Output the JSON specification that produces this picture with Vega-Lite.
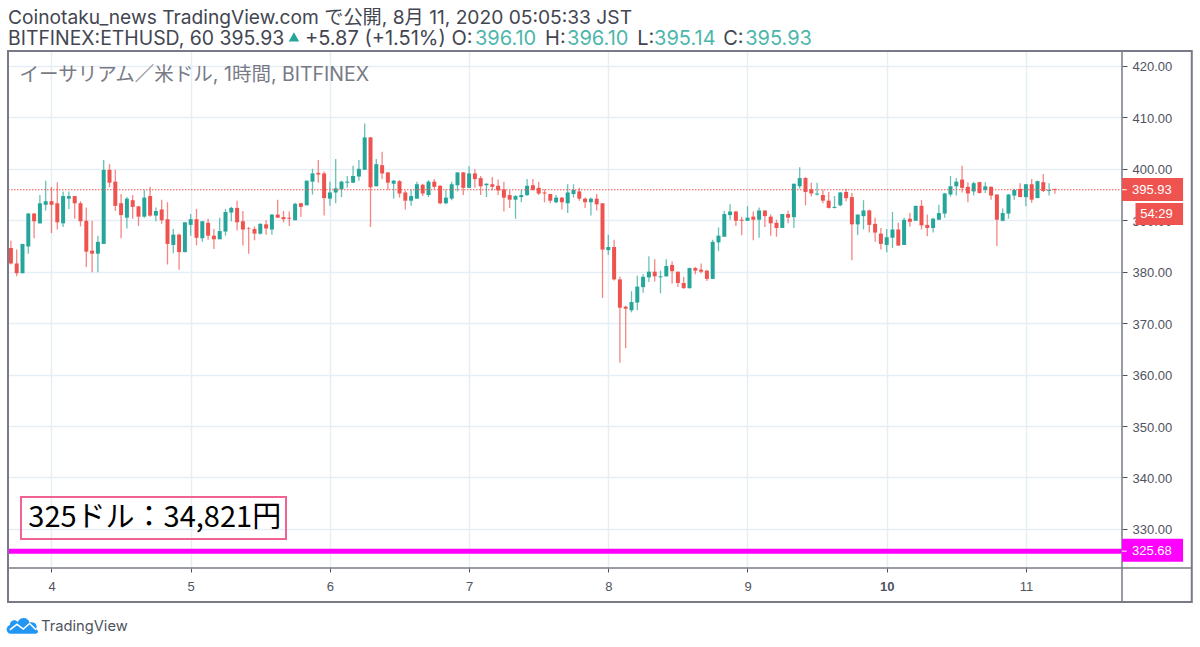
{
  "$schema": "https://vega.github.io/schema/vega-lite/v6.json",
  "width": 1114,
  "height": 517,
  "autosize": "none",
  "padding": {"left": 8, "top": 51, "right": 78, "bottom": 79},
  "background": "white",
  "view": {"stroke": null},
  "config": {"font": "Inter, Noto Sans CJK JP"},
  "datasets": {"note": [{"h": 0, "lo": 395.93, "note": "annotation"}]},
  "data": {"values": [
    {"h":-7,"o":384.6,"hi":386.0,"lo":381.4,"c":381.6},
    {"h":-6,"o":381.6,"hi":384.3,"lo":379.1,"c":379.7},
    {"h":-5,"o":379.7,"hi":385.4,"lo":379.7,"c":385.4},
    {"h":-4,"o":384.9,"hi":391.4,"lo":383.5,"c":391.3},
    {"h":-3,"o":391.3,"hi":391.4,"lo":386.5,"c":389.8},
    {"h":-2,"o":389.4,"hi":394.9,"lo":389.3,"c":393.3},
    {"h":-1,"o":393.0,"hi":397.7,"lo":391.9,"c":393.7},
    {"h":0,"o":393.7,"hi":396.5,"lo":387.5,"c":393.0},
    {"h":1,"o":393.3,"hi":397.4,"lo":388.2,"c":389.6},
    {"h":2,"o":389.4,"hi":395.6,"lo":388.7,"c":394.7},
    {"h":3,"o":394.2,"hi":395.6,"lo":392.2,"c":394.7},
    {"h":4,"o":394.7,"hi":394.7,"lo":390.3,"c":393.3},
    {"h":5,"o":393.3,"hi":393.7,"lo":388.8,"c":389.8},
    {"h":6,"o":389.9,"hi":392.5,"lo":380.9,"c":383.9},
    {"h":7,"o":384.1,"hi":389.9,"lo":379.9,"c":383.5},
    {"h":8,"o":383.5,"hi":387.0,"lo":379.9,"c":385.8},
    {"h":9,"o":385.4,"hi":401.7,"lo":385.4,"c":399.8},
    {"h":10,"o":399.8,"hi":400.9,"lo":396.4,"c":397.3},
    {"h":11,"o":397.5,"hi":399.8,"lo":391.8,"c":392.8},
    {"h":12,"o":393.3,"hi":395.1,"lo":386.5,"c":391.0},
    {"h":13,"o":390.5,"hi":394.5,"lo":388.4,"c":394.2},
    {"h":14,"o":393.9,"hi":394.9,"lo":390.3,"c":392.6},
    {"h":15,"o":392.7,"hi":392.8,"lo":388.9,"c":390.7},
    {"h":16,"o":390.7,"hi":395.9,"lo":390.5,"c":394.4},
    {"h":17,"o":394.7,"hi":396.5,"lo":390.7,"c":390.9},
    {"h":18,"o":390.9,"hi":392.5,"lo":389.8,"c":391.8},
    {"h":19,"o":392.1,"hi":394.0,"lo":389.3,"c":390.0},
    {"h":20,"o":390.2,"hi":393.5,"lo":381.4,"c":385.4},
    {"h":21,"o":385.2,"hi":388.3,"lo":383.6,"c":387.2},
    {"h":22,"o":387.2,"hi":387.4,"lo":380.4,"c":383.8},
    {"h":23,"o":383.8,"hi":389.6,"lo":383.8,"c":389.6},
    {"h":24,"o":389.1,"hi":391.2,"lo":387.0,"c":390.2},
    {"h":25,"o":390.2,"hi":392.2,"lo":385.1,"c":386.6},
    {"h":26,"o":386.5,"hi":389.8,"lo":385.8,"c":389.8},
    {"h":27,"o":389.5,"hi":390.3,"lo":386.2,"c":387.0},
    {"h":28,"o":387.0,"hi":388.3,"lo":384.4,"c":386.3},
    {"h":29,"o":386.3,"hi":390.5,"lo":386.3,"c":387.9},
    {"h":30,"o":387.8,"hi":392.2,"lo":387.0,"c":391.6},
    {"h":31,"o":391.5,"hi":392.6,"lo":389.8,"c":392.4},
    {"h":32,"o":392.4,"hi":393.8,"lo":388.0,"c":389.6},
    {"h":33,"o":389.8,"hi":391.8,"lo":385.1,"c":388.2},
    {"h":34,"o":388.4,"hi":388.7,"lo":383.5,"c":388.3},
    {"h":35,"o":388.3,"hi":388.8,"lo":386.1,"c":387.4},
    {"h":36,"o":387.4,"hi":389.4,"lo":387.2,"c":389.3},
    {"h":37,"o":389.2,"hi":390.0,"lo":387.2,"c":388.4},
    {"h":38,"o":388.2,"hi":391.2,"lo":387.2,"c":391.1},
    {"h":39,"o":391.1,"hi":394.0,"lo":390.5,"c":390.5},
    {"h":40,"o":390.6,"hi":391.8,"lo":389.6,"c":390.2},
    {"h":41,"o":390.5,"hi":391.7,"lo":388.9,"c":390.3},
    {"h":42,"o":390.0,"hi":393.4,"lo":390.0,"c":393.2},
    {"h":43,"o":393.3,"hi":393.4,"lo":390.7,"c":392.6},
    {"h":44,"o":392.9,"hi":397.7,"lo":392.9,"c":397.7},
    {"h":45,"o":397.5,"hi":400.0,"lo":395.0,"c":399.1},
    {"h":46,"o":399.2,"hi":401.7,"lo":397.3,"c":398.9},
    {"h":47,"o":399.1,"hi":399.5,"lo":390.9,"c":394.3},
    {"h":48,"o":394.2,"hi":397.5,"lo":392.8,"c":395.4},
    {"h":49,"o":395.4,"hi":401.9,"lo":393.3,"c":396.2},
    {"h":50,"o":396.0,"hi":397.7,"lo":394.5,"c":397.5},
    {"h":51,"o":397.3,"hi":398.6,"lo":396.3,"c":397.5},
    {"h":52,"o":397.3,"hi":400.6,"lo":397.3,"c":398.6},
    {"h":53,"o":398.5,"hi":401.7,"lo":397.7,"c":400.0},
    {"h":54,"o":399.8,"hi":408.8,"lo":399.8,"c":406.1},
    {"h":55,"o":406.1,"hi":406.2,"lo":388.7,"c":396.4},
    {"h":56,"o":396.6,"hi":401.9,"lo":396.6,"c":400.9},
    {"h":57,"o":400.7,"hi":403.3,"lo":398.0,"c":399.1},
    {"h":58,"o":399.3,"hi":399.4,"lo":395.9,"c":397.3},
    {"h":59,"o":397.1,"hi":397.8,"lo":394.2,"c":397.7},
    {"h":60,"o":397.6,"hi":397.8,"lo":394.4,"c":395.2},
    {"h":61,"o":395.4,"hi":395.8,"lo":392.1,"c":393.8},
    {"h":62,"o":393.8,"hi":396.0,"lo":392.8,"c":394.7},
    {"h":63,"o":394.2,"hi":397.5,"lo":394.2,"c":397.0},
    {"h":64,"o":396.9,"hi":397.1,"lo":394.7,"c":395.2},
    {"h":65,"o":394.9,"hi":397.8,"lo":394.5,"c":397.5},
    {"h":66,"o":397.5,"hi":398.0,"lo":396.0,"c":396.5},
    {"h":67,"o":396.7,"hi":396.8,"lo":393.1,"c":393.3},
    {"h":68,"o":393.3,"hi":396.0,"lo":393.1,"c":394.4},
    {"h":69,"o":394.2,"hi":397.5,"lo":393.9,"c":397.0},
    {"h":70,"o":396.8,"hi":399.3,"lo":395.6,"c":399.3},
    {"h":71,"o":399.3,"hi":399.4,"lo":394.9,"c":396.3},
    {"h":72,"o":396.3,"hi":400.5,"lo":396.3,"c":399.1},
    {"h":73,"o":399.1,"hi":399.9,"lo":396.3,"c":398.0},
    {"h":74,"o":398.2,"hi":398.6,"lo":394.9,"c":396.6},
    {"h":75,"o":396.8,"hi":397.2,"lo":394.5,"c":397.1},
    {"h":76,"o":397.0,"hi":398.4,"lo":395.8,"c":396.5},
    {"h":77,"o":396.7,"hi":397.9,"lo":394.9,"c":395.8},
    {"h":78,"o":396.0,"hi":397.5,"lo":391.7,"c":394.4},
    {"h":79,"o":394.9,"hi":395.8,"lo":392.4,"c":394.0},
    {"h":80,"o":394.0,"hi":394.9,"lo":390.3,"c":394.7},
    {"h":81,"o":394.5,"hi":395.9,"lo":393.5,"c":394.9},
    {"h":82,"o":394.9,"hi":398.0,"lo":394.7,"c":396.7},
    {"h":83,"o":396.8,"hi":398.0,"lo":395.8,"c":395.9},
    {"h":84,"o":396.3,"hi":397.5,"lo":394.9,"c":395.2},
    {"h":85,"o":395.4,"hi":396.0,"lo":393.5,"c":395.2},
    {"h":86,"o":395.1,"hi":395.1,"lo":393.3,"c":393.8},
    {"h":87,"o":393.5,"hi":394.9,"lo":393.3,"c":394.4},
    {"h":88,"o":394.4,"hi":394.5,"lo":392.1,"c":393.5},
    {"h":89,"o":393.3,"hi":397.0,"lo":391.4,"c":395.4},
    {"h":90,"o":395.1,"hi":397.0,"lo":394.4,"c":395.9},
    {"h":91,"o":395.6,"hi":396.3,"lo":393.8,"c":394.2},
    {"h":92,"o":394.2,"hi":394.4,"lo":392.4,"c":393.5},
    {"h":93,"o":393.5,"hi":394.4,"lo":390.9,"c":394.2},
    {"h":94,"o":394.2,"hi":395.1,"lo":391.9,"c":393.1},
    {"h":95,"o":393.3,"hi":393.3,"lo":374.9,"c":384.3},
    {"h":96,"o":384.2,"hi":387.2,"lo":383.3,"c":384.8},
    {"h":97,"o":384.8,"hi":386.2,"lo":378.3,"c":378.5},
    {"h":98,"o":378.5,"hi":379.0,"lo":362.3,"c":373.0},
    {"h":99,"o":373.2,"hi":373.4,"lo":365.1,"c":372.8},
    {"h":100,"o":372.5,"hi":376.2,"lo":372.1,"c":374.1},
    {"h":101,"o":374.0,"hi":379.2,"lo":372.5,"c":377.1},
    {"h":102,"o":377.0,"hi":379.5,"lo":375.9,"c":379.0},
    {"h":103,"o":378.9,"hi":383.0,"lo":378.0,"c":380.0},
    {"h":104,"o":380.0,"hi":382.4,"lo":378.1,"c":379.1},
    {"h":105,"o":378.9,"hi":380.2,"lo":375.8,"c":379.1},
    {"h":106,"o":379.1,"hi":382.4,"lo":379.0,"c":381.1},
    {"h":107,"o":381.3,"hi":382.0,"lo":377.7,"c":380.1},
    {"h":108,"o":380.0,"hi":380.0,"lo":377.0,"c":377.8},
    {"h":109,"o":377.8,"hi":379.0,"lo":376.7,"c":376.8},
    {"h":110,"o":376.8,"hi":380.8,"lo":376.7,"c":380.7},
    {"h":111,"o":380.7,"hi":380.9,"lo":379.5,"c":380.2},
    {"h":112,"o":380.4,"hi":381.6,"lo":379.7,"c":380.0},
    {"h":113,"o":380.2,"hi":380.4,"lo":378.2,"c":378.6},
    {"h":114,"o":378.6,"hi":386.2,"lo":378.6,"c":385.8},
    {"h":115,"o":385.7,"hi":388.6,"lo":384.0,"c":387.0},
    {"h":116,"o":386.8,"hi":391.8,"lo":386.8,"c":391.2},
    {"h":117,"o":391.0,"hi":393.1,"lo":390.1,"c":391.7},
    {"h":118,"o":391.7,"hi":391.8,"lo":388.9,"c":389.9},
    {"h":119,"o":390.1,"hi":390.7,"lo":387.1,"c":389.9},
    {"h":120,"o":389.9,"hi":392.7,"lo":389.9,"c":390.5},
    {"h":121,"o":390.7,"hi":391.7,"lo":386.1,"c":390.1},
    {"h":122,"o":390.1,"hi":392.5,"lo":386.6,"c":391.9},
    {"h":123,"o":391.9,"hi":391.9,"lo":388.7,"c":390.8},
    {"h":124,"o":390.7,"hi":391.1,"lo":387.0,"c":389.4},
    {"h":125,"o":389.5,"hi":390.1,"lo":386.8,"c":388.5},
    {"h":126,"o":388.5,"hi":391.2,"lo":388.5,"c":391.2},
    {"h":127,"o":391.2,"hi":391.9,"lo":389.4,"c":390.5},
    {"h":128,"o":390.6,"hi":397.1,"lo":388.5,"c":397.1},
    {"h":129,"o":396.6,"hi":400.3,"lo":396.1,"c":398.2},
    {"h":130,"o":398.2,"hi":398.4,"lo":392.9,"c":395.5},
    {"h":131,"o":396.0,"hi":397.3,"lo":394.6,"c":395.2},
    {"h":132,"o":395.0,"hi":397.3,"lo":394.8,"c":395.2},
    {"h":133,"o":394.9,"hi":396.0,"lo":393.3,"c":393.8},
    {"h":134,"o":393.8,"hi":395.5,"lo":392.3,"c":392.4},
    {"h":135,"o":392.4,"hi":394.7,"lo":392.3,"c":392.6},
    {"h":136,"o":392.9,"hi":395.5,"lo":392.7,"c":395.4},
    {"h":137,"o":395.5,"hi":396.1,"lo":393.7,"c":394.3},
    {"h":138,"o":394.5,"hi":395.3,"lo":382.2,"c":389.2},
    {"h":139,"o":389.2,"hi":391.1,"lo":387.1,"c":391.1},
    {"h":140,"o":390.8,"hi":393.9,"lo":388.2,"c":391.9},
    {"h":141,"o":391.9,"hi":392.1,"lo":387.6,"c":389.1},
    {"h":142,"o":389.3,"hi":390.5,"lo":385.8,"c":387.6},
    {"h":143,"o":387.4,"hi":388.5,"lo":384.3,"c":385.4},
    {"h":144,"o":385.2,"hi":388.3,"lo":383.8,"c":386.7},
    {"h":145,"o":386.6,"hi":391.6,"lo":384.6,"c":388.2},
    {"h":146,"o":388.2,"hi":389.5,"lo":385.0,"c":385.1},
    {"h":147,"o":385.2,"hi":390.5,"lo":385.2,"c":390.1},
    {"h":148,"o":390.3,"hi":391.4,"lo":388.8,"c":389.7},
    {"h":149,"o":389.9,"hi":392.8,"lo":389.9,"c":392.8},
    {"h":150,"o":392.8,"hi":393.9,"lo":388.2,"c":389.0},
    {"h":151,"o":389.1,"hi":391.1,"lo":386.9,"c":388.5},
    {"h":152,"o":388.5,"hi":390.5,"lo":387.6,"c":390.3},
    {"h":153,"o":390.1,"hi":393.0,"lo":390.0,"c":391.4},
    {"h":154,"o":391.3,"hi":395.3,"lo":390.5,"c":395.2},
    {"h":155,"o":395.0,"hi":398.6,"lo":394.6,"c":396.6},
    {"h":156,"o":396.6,"hi":398.2,"lo":394.8,"c":397.5},
    {"h":157,"o":397.9,"hi":400.6,"lo":395.4,"c":396.3},
    {"h":158,"o":396.5,"hi":397.4,"lo":393.5,"c":395.2},
    {"h":159,"o":395.6,"hi":397.5,"lo":394.8,"c":397.2},
    {"h":160,"o":397.4,"hi":397.5,"lo":395.2,"c":395.3},
    {"h":161,"o":395.9,"hi":397.4,"lo":395.3,"c":396.6},
    {"h":162,"o":396.5,"hi":396.6,"lo":394.0,"c":394.8},
    {"h":163,"o":395.0,"hi":395.0,"lo":385.0,"c":390.1},
    {"h":164,"o":389.9,"hi":392.3,"lo":389.8,"c":391.4},
    {"h":165,"o":391.3,"hi":395.1,"lo":390.3,"c":395.0},
    {"h":166,"o":394.8,"hi":396.1,"lo":394.0,"c":395.9},
    {"h":167,"o":396.1,"hi":397.2,"lo":394.5,"c":394.5},
    {"h":168,"o":394.5,"hi":397.0,"lo":392.7,"c":397.0},
    {"h":169,"o":397.0,"hi":398.0,"lo":393.4,"c":394.0},
    {"h":170,"o":394.3,"hi":397.7,"lo":394.3,"c":397.6},
    {"h":171,"o":397.4,"hi":399.0,"lo":395.5,"c":395.7},
    {"h":172,"o":395.7,"hi":397.2,"lo":394.8,"c":395.9},
    {"h":173,"o":396.1,"hi":396.1,"lo":395.14,"c":395.93}
  ]},
  "encoding": {
    "x": {
      "field": "h",
      "type": "quantitative",
      "title": null,
      "scale": {"domain": [-7.5, 184.57], "nice": false, "zero": false, "padding": 0},
      "axis": {
        "values": [0, 24, 48, 72, 96, 120, 144, 168],
        "labelExpr": "4 + datum.value / 24",
        "domain": false,
        "grid": true,
        "gridColor": "#e6eef5",
        "gridWidth": 1.5,
        "tickColor": "#50535e",
        "tickSize": 4,
        "labelColor": "#50535e",
        "labelFont": "Liberation Sans",
        "labelFontSize": 13,
        "labelPadding": 8,
        "labelFontWeight": {"condition": {"test": "datum.value == 144", "value": "bold"}, "value": "normal"}
      }
    },
    "y": {
      "field": "lo",
      "type": "quantitative",
      "title": null,
      "scale": {"domain": [322.4, 422.9], "nice": false, "zero": false},
      "axis": {
        "orient": "right",
        "values": [330, 340, 350, 360, 370, 380, 390, 400, 410, 420],
        "format": ".2f",
        "domain": false,
        "grid": true,
        "gridColor": "#e6eef5",
        "gridWidth": 1.5,
        "tickColor": "#50535e",
        "tickSize": 5,
        "labelColor": "#50535e",
        "labelFont": "Liberation Sans",
        "labelFontSize": 13,
        "labelPadding": 5,
        "labelOffset": 1
      }
    }
  },
  "layer": [
    {
      "mark": {"type": "rule", "strokeWidth": 1.3, "opacity": 0.7},
      "encoding": {
        "y2": {"field": "hi"},
        "color": {"condition": {"test": "datum.c < datum.o", "value": "#ef5350"}, "value": "#26a69a"}
      }
    },
    {
      "mark": {"type": "bar", "size": 4},
      "encoding": {
        "y": {"field": "o", "type": "quantitative"},
        "y2": {"field": "c"},
        "color": {"condition": {"test": "datum.c < datum.o", "value": "#ef5350"}, "value": "#26a69a"}
      }
    },
    {
      "data": {"name": "note"},
      "mark": {"type": "rule", "color": "#ef5350", "strokeWidth": 1.2, "strokeDash": [1.5, 1.5]},
      "encoding": {"x": {"datum": -7.5}, "x2": {"datum": 184.57}, "y": {"datum": 395.93}}
    },
    {
      "data": {"name": "note"},
      "mark": {"type": "rule", "color": "#ff00ff", "strokeWidth": 5},
      "encoding": {"x": {"datum": -7.5}, "x2": {"datum": 184.57}, "y": {"datum": 325.68}}
    },
    {
      "data": {"name": "note"},
      "mark": {"type": "rect", "fillOpacity": 0, "stroke": "#f06292", "strokeWidth": 2, "clip": false},
      "encoding": {"x": {"datum": -5.26}, "x2": {"datum": 40.43}, "y": {"datum": 336.2}, "y2": {"datum": 328.05}}
    },
    {
      "data": {"name": "note"},
      "mark": {"type": "text", "text": "325ドル：34,821円", "font": "Noto Sans CJK JP", "fontSize": 29, "color": "#000000", "align": "center", "baseline": "middle"},
      "encoding": {"x": {"datum": 17.8}, "y": {"datum": 332.1}}
    },
    {
      "data": {"name": "note"},
      "mark": {"type": "rect", "fillOpacity": 0, "stroke": "#787b86", "strokeWidth": 2, "clip": false},
      "encoding": {"x": {"datum": -7.5}, "x2": {"datum": 196.6}, "y": {"datum": 422.9}, "y2": {"datum": 315.8}}
    },
    {
      "data": {"name": "note"},
      "mark": {"type": "rule", "color": "#787b86", "strokeWidth": 1.5},
      "encoding": {"x": {"datum": 184.57}, "y": {"datum": 422.9}, "y2": {"datum": 315.8}}
    },
    {
      "data": {"name": "note"},
      "mark": {"type": "rule", "color": "#787b86", "strokeWidth": 1.5},
      "encoding": {"x": {"datum": -7.5}, "x2": {"datum": 196.6}, "y": {"datum": 322.4}}
    },
    {
      "data": {"name": "note"},
      "mark": {"type": "rect", "color": "#ef5350"},
      "encoding": {"x": {"datum": 184.57}, "x2": {"datum": 195.1}, "y": {"datum": 398.2}, "y2": {"datum": 393.75}}
    },
    {
      "data": {"name": "note"},
      "mark": {"type": "rect", "color": "#ef5350"},
      "encoding": {"x": {"datum": 186.9}, "x2": {"datum": 195.1}, "y": {"datum": 393.35}, "y2": {"datum": 389.1}}
    },
    {
      "data": {"name": "note"},
      "mark": {"type": "rect", "color": "#ff00ff"},
      "encoding": {"x": {"datum": 184.57}, "x2": {"datum": 195.1}, "y": {"datum": 328.1}, "y2": {"datum": 323.6}}
    },
    {
      "data": {"name": "note"},
      "mark": {"type": "rule", "color": "#ffffff", "strokeWidth": 1},
      "encoding": {"x": {"datum": 184.57}, "x2": {"datum": 185.4}, "y": {"datum": 395.93}}
    },
    {
      "data": {"name": "note"},
      "mark": {"type": "rule", "color": "#ffffff", "strokeWidth": 1},
      "encoding": {"x": {"datum": 184.57}, "x2": {"datum": 185.4}, "y": {"datum": 325.68}}
    },
    {
      "data": {"name": "note"},
      "mark": {"type": "text", "text": "395.93", "font": "Liberation Sans", "fontSize": 13, "color": "#ffffff", "align": "left", "baseline": "middle"},
      "encoding": {"x": {"datum": 186.3}, "y": {"datum": 395.93}}
    },
    {
      "data": {"name": "note"},
      "mark": {"type": "text", "text": "54:29", "font": "Liberation Sans", "fontSize": 13, "color": "#ffffff", "align": "left", "baseline": "middle"},
      "encoding": {"x": {"datum": 187.7}, "y": {"datum": 391.2}}
    },
    {
      "data": {"name": "note"},
      "mark": {"type": "text", "text": "325.68", "font": "Liberation Sans", "fontSize": 13, "color": "#ffffff", "align": "left", "baseline": "middle"},
      "encoding": {"x": {"datum": 186.3}, "y": {"datum": 325.68}}
    },
    {
      "data": {"name": "note"},
      "mark": {"type": "text", "text": "イーサリアム／米ドル, 1時間, BITFINEX", "fontSize": 19.5, "color": "#787b86", "align": "left", "baseline": "alphabetic"},
      "encoding": {"x": {"datum": -5.5}, "y": {"datum": 417}}
    },
    {
      "data": {"name": "note"},
      "mark": {"type": "text", "text": "Coinotaku_news TradingView.com で公開, 8月 11, 2020 05:05:33 JST", "fontSize": 19.2, "color": "#434651", "align": "left", "baseline": "alphabetic"},
      "encoding": {"x": {"datum": -7.5}, "y": {"datum": 428.2}}
    },
    {
      "data": {"name": "note"},
      "mark": {"type": "text", "text": "BITFINEX:ETHUSD, 60 395.93", "fontSize": 19.4, "color": "#434651", "align": "left", "baseline": "alphabetic"},
      "encoding": {"x": {"datum": -7.5}, "y": {"datum": 424.08}}
    },
    {
      "data": {"name": "note"},
      "mark": {"type": "point", "shape": "triangle-up", "filled": true, "size": 110, "color": "#26a69a", "opacity": 1},
      "encoding": {"x": {"datum": 41.8}, "y": {"datum": 425.64}}
    },
    {
      "data": {"name": "note"},
      "mark": {"type": "text", "text": "+5.87 (+1.51%) O:", "fontSize": 20, "color": "#434651", "align": "left", "baseline": "alphabetic"},
      "encoding": {"x": {"datum": 43.7}, "y": {"datum": 424.08}}
    },
    {
      "data": {"name": "note"},
      "mark": {"type": "text", "text": "396.10", "fontSize": 20, "color": "#4db6ac", "align": "left", "baseline": "alphabetic"},
      "encoding": {"x": {"datum": 73}, "y": {"datum": 424.08}}
    },
    {
      "data": {"name": "note"},
      "mark": {"type": "text", "text": "H:", "fontSize": 20, "color": "#434651", "align": "left", "baseline": "alphabetic"},
      "encoding": {"x": {"datum": 85.1}, "y": {"datum": 424.08}}
    },
    {
      "data": {"name": "note"},
      "mark": {"type": "text", "text": "396.10", "fontSize": 20, "color": "#4db6ac", "align": "left", "baseline": "alphabetic"},
      "encoding": {"x": {"datum": 88.9}, "y": {"datum": 424.08}}
    },
    {
      "data": {"name": "note"},
      "mark": {"type": "text", "text": "L:", "fontSize": 20, "color": "#434651", "align": "left", "baseline": "alphabetic"},
      "encoding": {"x": {"datum": 101}, "y": {"datum": 424.08}}
    },
    {
      "data": {"name": "note"},
      "mark": {"type": "text", "text": "395.14", "fontSize": 20, "color": "#4db6ac", "align": "left", "baseline": "alphabetic"},
      "encoding": {"x": {"datum": 103.9}, "y": {"datum": 424.08}}
    },
    {
      "data": {"name": "note"},
      "mark": {"type": "text", "text": "C:", "fontSize": 20, "color": "#434651", "align": "left", "baseline": "alphabetic"},
      "encoding": {"x": {"datum": 115.8}, "y": {"datum": 424.08}}
    },
    {
      "data": {"name": "note"},
      "mark": {"type": "text", "text": "395.93", "fontSize": 20, "color": "#4db6ac", "align": "left", "baseline": "alphabetic"},
      "encoding": {"x": {"datum": 119.6}, "y": {"datum": 424.08}}
    },
    {
      "data": {"name": "note"},
      "mark": {"type": "point", "filled": true, "opacity": 1, "size": 1000, "color": "#2196f3", "shape": "M-0.75,0.55 C-1.05,0.55 -1.1,0.1 -0.8,0 C-0.8,-0.3 -0.45,-0.4 -0.3,-0.2 C-0.15,-0.55 0.35,-0.55 0.45,-0.15 C0.75,-0.25 1,0 0.85,0.25 C1.05,0.35 1,0.55 0.8,0.55 Z"},
      "encoding": {"x": {"datum": -5}, "y": {"datum": 311.3}}
    },
    {
      "data": {"name": "note"},
      "mark": {"type": "point", "filled": false, "opacity": 1, "size": 1000, "stroke": "#ffffff", "strokeWidth": 1.5, "shape": "M-0.8,0.3 L-0.35,-0.05 L0.05,0.25 L0.45,-0.1 L0.85,0.3"},
      "encoding": {"x": {"datum": -5}, "y": {"datum": 311.3}}
    },
    {
      "data": {"name": "note"},
      "mark": {"type": "text", "text": "TradingView", "fontSize": 14.7, "color": "#50535e", "align": "left", "baseline": "alphabetic"},
      "encoding": {"x": {"datum": -1.8}, "y": {"datum": 310.2}}
    }
  ]
}
